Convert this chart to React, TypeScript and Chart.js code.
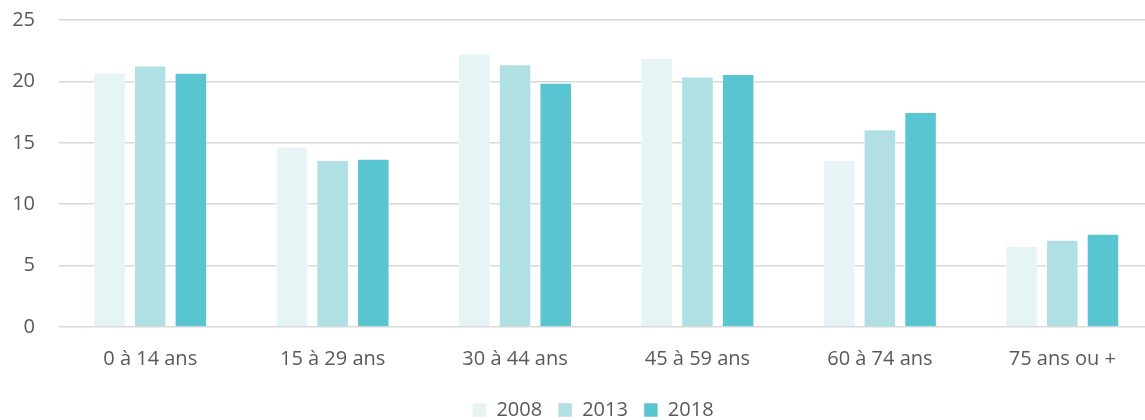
import React, { useEffect, useRef } from "react";
import { Chart, registerables } from "chart.js";

Chart.register(...registerables);

const categories = ["0 à 14 ans", "15 à 29 ans", "30 à 44 ans", "45 à 59 ans", "60 à 74 ans", "75 ans ou +"];
const seriesLabels = ["2008", "2013", "2018"];
const values2008 = [20.7, 14.7, 22.3, 21.9, 13.6, 6.6];
const values2013 = [21.3, 13.6, 21.4, 20.4, 16.1, 7.1];
const values2018 = [20.7, 13.7, 19.9, 20.6, 17.5, 7.6];
const colors = ["#E6F4F5", "#B0DFE4", "#59C5D0"];
const yTicks = [0, 5, 10, 15, 20, 25];

const W = 1186;
const H = 446;
const TOP_SHIFT = -16;
const FONT = "Open Sans";

export default function App() {
  const ref = useRef<HTMLCanvasElement | null>(null);
  useEffect(() => {
    if (!ref.current) return;
    const data = [values2008, values2013, values2018];
    const chart = new Chart(ref.current, {
      type: "bar",
      data: {
        labels: categories,
        datasets: seriesLabels.map((l, i) => ({
          label: l,
          data: data[i],
          backgroundColor: colors[i],
          borderColor: "rgba(255,255,255,0.5)",
          borderWidth: 1,
          categoryPercentage: 0.669,
          barPercentage: 0.8,
        })),
      },
      options: {
        animation: false,
        responsive: false,
        maintainAspectRatio: false,
        layout: { padding: { top: 5, right: 0, left: 0, bottom: 0 } },
        plugins: {
          legend: {
            position: "bottom",
            labels: {
              color: "#595959",
              font: { family: FONT, size: 20 },
              boxWidth: 14,
              boxHeight: 14,
              padding: 16,
            },
          },
          tooltip: { enabled: false },
        },
        scales: {
          x: {
            grid: { display: false },
            border: { display: false },
            ticks: { color: "#595959", font: { family: FONT, size: 20 }, padding: 12 },
            afterFit: (axis: any) => {
              axis.height = 57;
            },
          },
          y: {
            min: 0,
            max: 25,
            afterBuildTicks: (axis: any) => {
              axis.ticks = yTicks.map((v) => ({ value: v }));
            },
            afterFit: (axis: any) => {
              axis.width = 59;
            },
            grid: { color: "#D9D9D9", lineWidth: 1.5, drawTicks: false },
            border: { display: false },
            ticks: { color: "#595959", font: { family: FONT, size: 20 }, padding: 24 },
          },
          yRight: {
            position: "right",
            min: 0,
            max: 25,
            grid: { display: false },
            border: { display: false },
            ticks: { display: false },
            afterFit: (axis: any) => {
              axis.width = W - 1153.5;
            },
          },
        },
      },
    });
    return () => chart.destroy();
  }, []);
  return (
    <div style={{ position: "fixed", left: 0, top: 0, width: 1145, height: 420, overflow: "hidden", background: "#fff" }}>
      <canvas
        ref={ref}
        width={W}
        height={H}
        style={{ width: W, height: H, display: "block", position: "absolute", left: 0, top: TOP_SHIFT }}
      />
    </div>
  );
}
